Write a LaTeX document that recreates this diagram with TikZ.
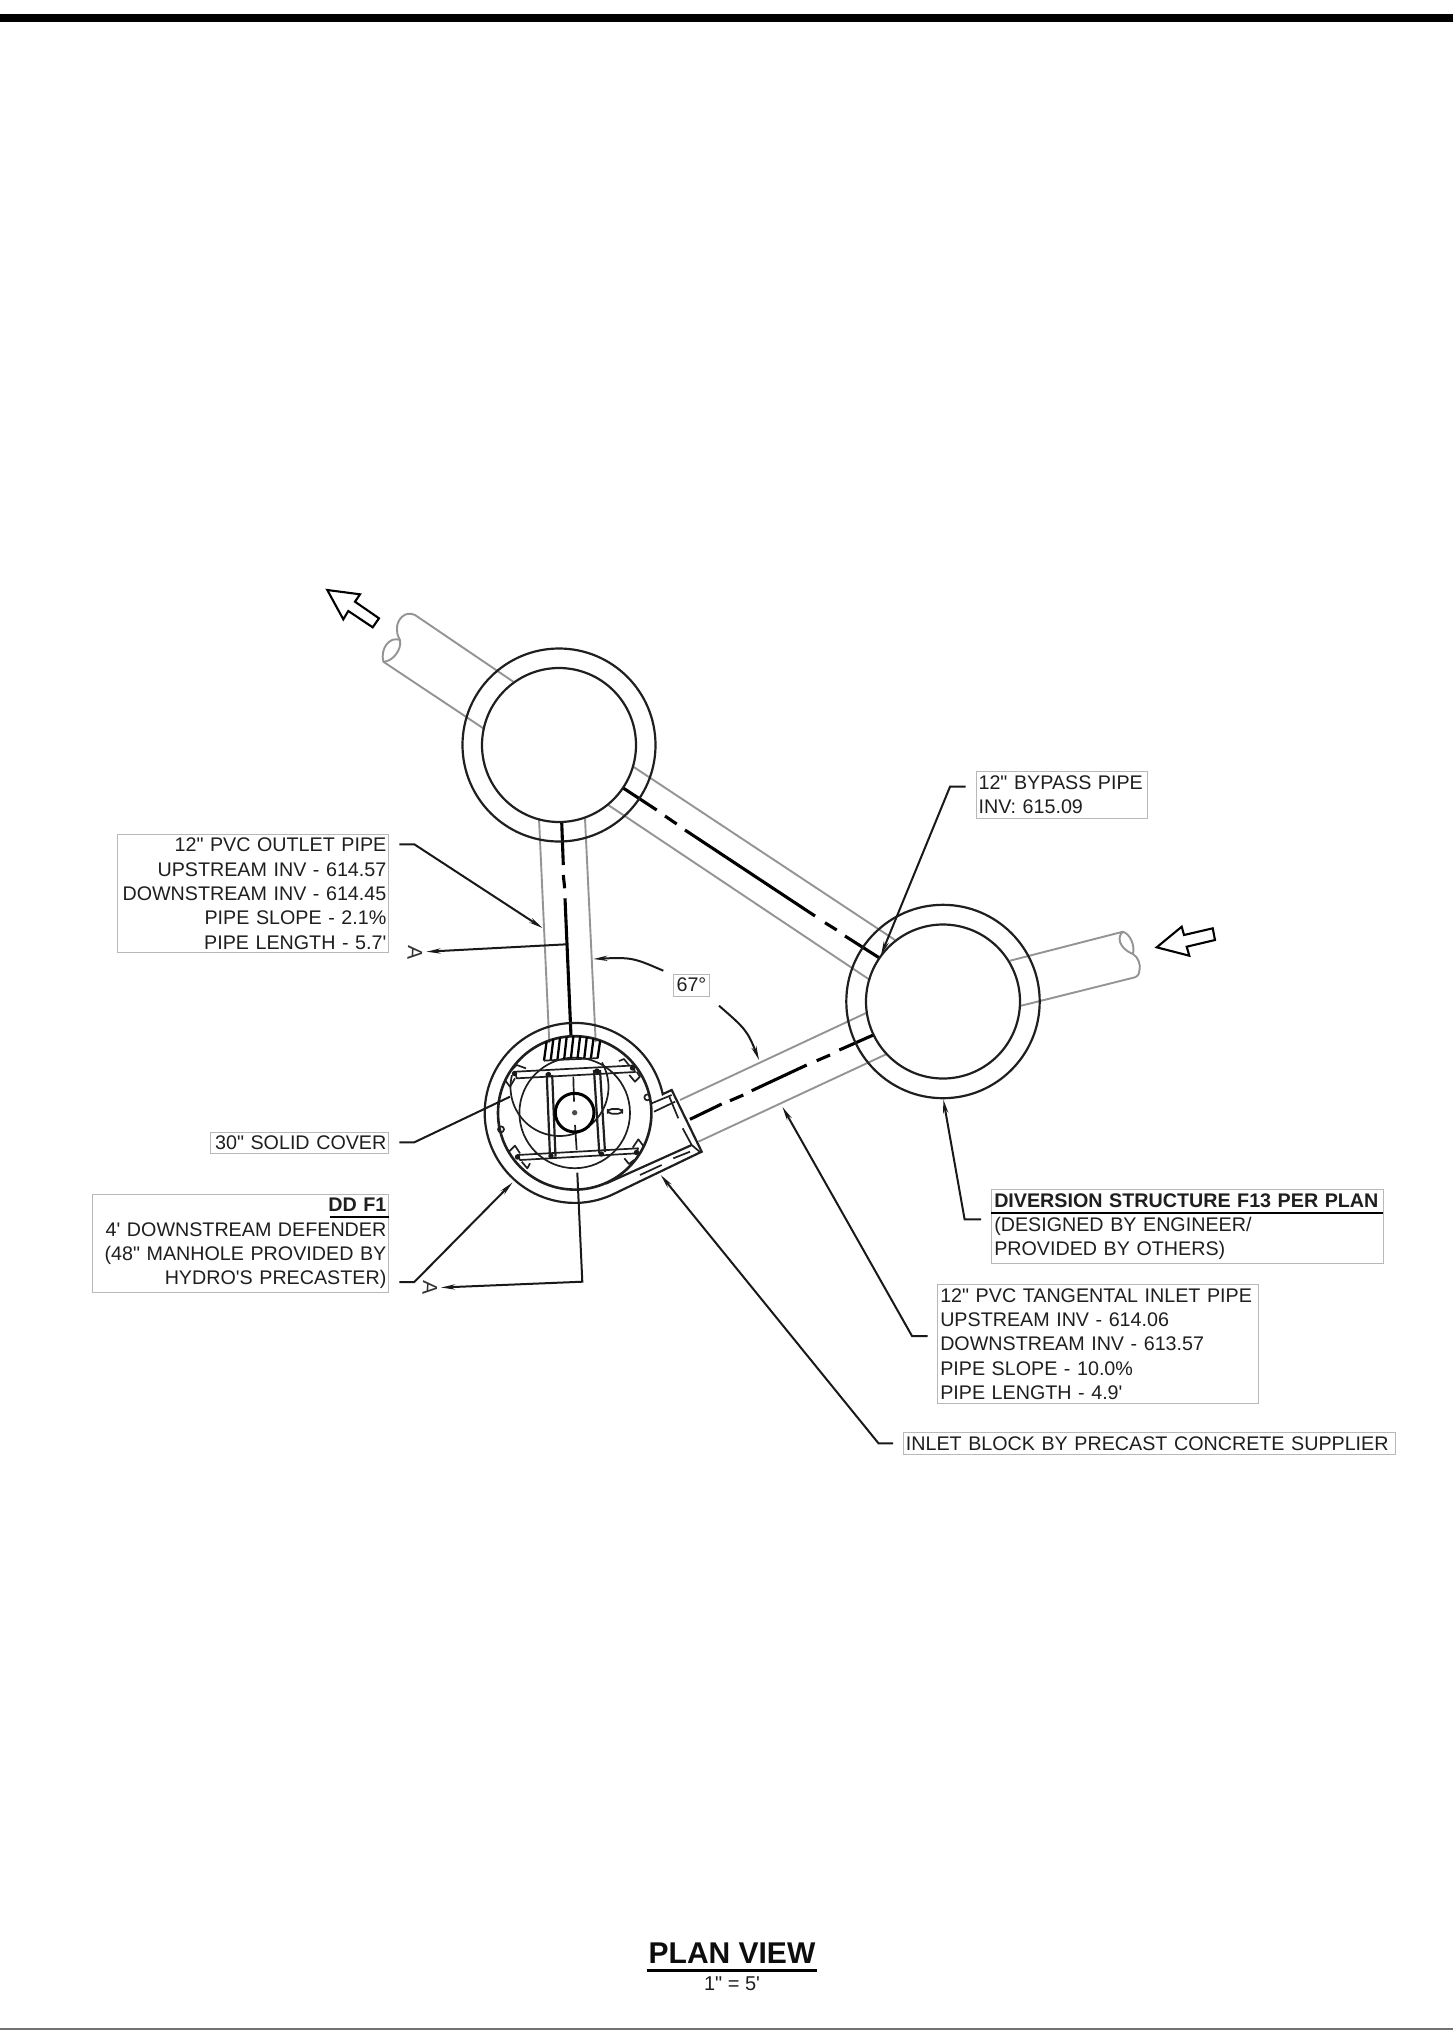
\documentclass[tikz,border=0pt]{standalone}
\usepackage{fontspec}
\usetikzlibrary{arrows.meta,bending}
\newfontfamily\lab{Liberation Sans}
\tikzset{
  x=0.5pt,y=-0.5pt,
  wall/.style={draw=black!88,line width=1.1pt},
  fine/.style={draw=black!88,line width=0.85pt,line join=round},
  pipe/.style={draw=black!42,line width=0.95pt,line join=round},
  cl/.style={draw=black,line width=1.55pt},
  leader/.style={draw=black!90,line width=1pt,line join=miter},
  tipped/.style={leader,-{Stealth[length=7pt,width=2.6pt,flex]}},
  bigarrow/.style={draw=black,line width=1.05pt,line join=miter,fill=white},
  lbl/.style 2 args={draw=black!28,line width=0.45pt,anchor=north west,inner sep=0pt,inner xsep=1.2pt,
    minimum width=0.5pt*#1,minimum height=0.5pt*#2,text width=0.5pt*#1-2.4pt,
    font=\lab\fontsize{9.85}{12.17}\selectfont,text=black!88},
  seca/.style={font=\lab\fontsize{10.5}{11}\selectfont,inner sep=0pt,text=black!80},
}
\begin{document}
\begin{tikzpicture}
\useasboundingbox (0,0) rectangle (1453,2030);
\fill[white] (0,0) rectangle (1453,2030);
% page rules
\fill[black] (0,13.5) rectangle (1453,22);
\fill[black!55] (0,2027.5) rectangle (1453,2030);

% named points
\coordinate (c1) at (559,745);
\coordinate (c2) at (943,1001.5);
\coordinate (hub) at (574.7,1112.9);

% pipes
\draw[pipe] (513.3,681.7) -- (415,615) .. controls (405,610) and (396,620) .. (397,630) .. controls (397,635) and (399,638) .. (400,640);
\draw[pipe] (400,640) .. controls (390,636) and (380,648) .. (383.3,661.7) .. controls (392,662) and (402,650) .. (400,640);
\draw[pipe] (383.3,661.7) -- (483.3,728.3);
\draw[pipe] (633.3,766.7) -- (895,940);
\draw[pipe] (608.3,805) -- (870,980);
\draw[pipe] (539,818.3) -- (549.3,1043);
\draw[pipe] (585,818.3) -- (595.7,1042);
\draw[pipe] (866.7,1012.7) -- (680,1100);
\draw[pipe] (886.7,1054) -- (698.3,1141.7);
\draw[pipe] (1010,960.7) -- (1123,931.7) .. controls (1117,936) and (1118,948) .. (1133,954);
\draw[pipe] (1123,931.7) .. controls (1130,934) and (1135,945) .. (1133,954) .. controls (1138,957) and (1141,965) .. (1139.5,970) .. controls (1139,975) and (1137,977) .. (1135,977.3) -- (1020,1006);

% centre lines
\draw[cl] (622.7,787.7) -- (656.7,810) (665,816) -- (676.7,824) (685,830) -- (815,916) (825,922.7) -- (836.7,930) (845,936) -- (880,958.3);
\draw[cl] (561.7,821.7) -- (563.3,865) (563.3,875) -- (564.7,888.3) (565,898.3) -- (571,1036);
\draw[cl] (873.3,1035) -- (839.3,1050) (830,1055) -- (816.7,1060.7) (806.7,1065) -- (751.7,1090.7) (743.3,1095) -- (730,1100.7) (721.7,1104) -- (690,1119.3);

% structures
\draw[wall] (c1) circle[radius=96.5];
\draw[wall] (c1) circle[radius=77];
\draw[wall] (c2) circle[radius=96.7];
\draw[wall] (c2) circle[radius=77];

% manhole body
\draw[wall] plot[domain=66:348,samples=90] ({574.7+90*cos(\x)},{1112.9+90*sin(\x)}) -- (663,1094) -- (671.7,1090) -- (701.7,1151.7) -- (698.3,1153.3) -- cycle;
\draw[wall,line width=1.3pt] (hub) circle[radius=76.7];
\draw[fine] (hub) circle[radius=55.3];
\draw[fine] plot[domain=-30:194,samples=60] ({559.5+49*cos(\x)},{1087+49*sin(\x)});
% inlet block
\draw[wall] (691.7,1145) -- (606,1183.5);
\draw[fine] (669.3,1096.7) -- (678.3,1118.3) (682.7,1128.3) -- (691.7,1145) -- (700,1152);
\draw[fine] (673.3,1158.3) -- (690,1151.7) (640,1175) -- (661.7,1165);
\draw[fine] (651.7,1103.3) -- (671.7,1095) (654,1111.7) -- (675,1101.7);
% comb
\foreach \i in {0,...,8}{
  \pgfmathsetmacro{\xb}{544+6.7*\i}
  \pgfmathsetmacro{\yb}{1060.7-0.33*\i}
  \pgfmathsetmacro{\xt}{\xb+2.6}
  \pgfmathsetmacro{\yt}{1112.9-sqrt(76.7*76.7-(\xt-574.7)*(\xt-574.7))}
  \draw[draw=black,line width=1.15pt] (\xb,\yb) -- (\xt,\yt);
}
\draw[fine] (544,1060.7) .. controls (560,1059.5) and (585,1059) .. (598.3,1058);
% frame bars
\draw[fine] (515,1071.7) -- (633,1065.5) -- (635,1072) -- (516.7,1078.3) -- cycle;
\draw[fine] (517.3,1155) -- (638,1148.3) -- (637,1153.3) -- (520,1160) -- cycle;
\draw[fine,line width=1.1pt] (546.7,1073.3) -- (550,1156.7) (552.2,1075) -- (555.5,1156.7);
\draw[fine,line width=1.1pt] (594,1070) -- (599.3,1153.3) (600,1070) -- (605,1152);
\foreach \p in {(548.5,1074.5),(597,1071),(551,1156),(601.5,1154),(514.5,1073.5),(517.5,1157),(636.5,1152.5),(632.5,1068)}
  \fill[black!90] \p circle[radius=2.7];
% details at 3x reference scale
\begin{scope}[shift={(440,980)},scale=0.33333]
  \draw[fine] (537,243) -- (552,237) -- (568,257);
  \draw[fine] (568,285) -- (585,305) -- (600,290) -- (590,275);
  \draw[fine] (215,270) -- (230,255) -- (258,265);
  \draw[fine] (195,300) -- (210,320) -- (225,295);
  \draw[fine] (207,515) -- (225,497) -- (240,520);
  \draw[fine] (245,545) -- (262,565) -- (270,550);
  \draw[fine] (553,535) -- (567,552) -- (582,540);
  \draw[fine] (578,503) -- (595,478) -- (612,500);
  \draw[fine] (622,352) circle[radius=9];
  \draw[fine] (183,448) circle[radius=9];
  \draw[fine,rounded corners=2pt] (503,387) rectangle (547,401);
  \draw[fine] (400,290) -- (402,365) (405,435) -- (410,510);
  \draw[draw=black,line width=1.5pt] (404,398) circle[radius=58];
  \fill[black!70] (404,398) circle[radius=8];
\end{scope}

% big flow arrows
\draw[bigarrow] (327.3,590) -- (360,594.3) -- (355,601.7) -- (379,618.3) -- (372.7,627.3) -- (348.3,611) -- (343.3,619.3) -- cycle;
\draw[bigarrow] (1156.7,947.3) -- (1181.7,926.7) -- (1184,935) -- (1212.7,928.3) -- (1215,940) -- (1186.7,946.7) -- (1189.3,955.7) -- cycle;

% labels
\node (outlet) [lbl={271}{118},align=right] at (117.3,834.3) {12" PVC OUTLET PIPE\\UPSTREAM INV - 614.57\\DOWNSTREAM INV - 614.45\\PIPE SLOPE - 2.1\%\\PIPE LENGTH - 5.7'};
\node (cover) [lbl={178}{21.6},align=right] at (210.3,1131.7) {30" SOLID COVER};
\node (ddf) [lbl={296}{98.3},align=right] at (92.3,1194) {\textbf{DD F1}\\4' DOWNSTREAM DEFENDER\\(48" MANHOLE PROVIDED BY\\HYDRO'S PRECASTER)};
\node (bypass) [lbl={171}{46.7},align=left] at (975.7,771) {12" BYPASS PIPE\\INV: 615.09};
\node (divers) [lbl={392}{74.3},align=left] at (991.4,1189) {\textbf{DIVERSION STRUCTURE F13 PER PLAN}\\(DESIGNED BY ENGINEER/\\PROVIDED BY OTHERS)};
\node (inletp) [lbl={320.6}{119.3},align=left] at (937.4,1284) {12" PVC TANGENTAL INLET PIPE\\UPSTREAM INV - 614.06\\DOWNSTREAM INV - 613.57\\PIPE SLOPE - 10.0\%\\PIPE LENGTH - 4.9'};
\node (block) [lbl={492.4}{22},align=left] at (903,1432.3) {INLET BLOCK BY PRECAST CONCRETE SUPPLIER};
\node (angle) [lbl={35.4}{22},align=center] at (673.3,973.7) {67°};
\draw[draw=black,line width=0.9pt] (330,1216.7) -- (389.3,1216.7);
\draw[draw=black,line width=1.1pt] (991.4,1212.7) -- (1383.4,1212.7);

% section markers
\node (secA) [seca,rotate=-93] at (415,952.5) {A};
\node (secB) [seca,rotate=-93] at (430,1288) {A};

% leader points
\coordinate (outS) at (399.3,844.3); \coordinate (outE) at (414.3,844.3); \coordinate (outT) at (542.5,928);
\coordinate (covS) at (399.3,1142.3); \coordinate (covE) at (414.3,1142.3); \coordinate (covT) at (510,1096.7);
\coordinate (ddS) at (399.3,1282); \coordinate (ddE) at (414.3,1282); \coordinate (ddT) at (512.5,1182.5);
\coordinate (bypS) at (965.7,786.7); \coordinate (bypE) at (950,786.7); \coordinate (bypT) at (881,955);
\coordinate (divS) at (981,1219.3); \coordinate (divE) at (964.6,1219.3); \coordinate (divT) at (943.3,1099.3);
\coordinate (inlS) at (927.6,1336); \coordinate (inlE) at (912,1336); \coordinate (inlT) at (782.5,1107);
\coordinate (blkS) at (893.2,1443.3); \coordinate (blkE) at (878.5,1443.3); \coordinate (blkT) at (660.7,1175);
\coordinate (a1T) at (566.7,944.3); \coordinate (a1A) at (426.5,951.7);
\coordinate (a2S) at (577.3,1172.7); \coordinate (a2E) at (582.3,1281.7); \coordinate (a2A) at (441,1287.5);
\coordinate (angA) at (663.3,970.7); \coordinate (angB) at (593.3,959);
\coordinate (angC) at (719,1005.7); \coordinate (angD) at (759,1060);

\draw[tipped] (outS) -- (outE) -- (outT);
\draw[leader] (covS) -- (covE) -- (covT);
\draw[tipped] (ddS) -- (ddE) -- (ddT);
\draw[tipped] (bypS) -- (bypE) -- (bypT);
\draw[tipped] (divS) -- (divE) -- (divT);
\draw[tipped] (inlS) -- (inlE) -- (inlT);
\draw[tipped] (blkS) -- (blkE) -- (blkT);
\draw[tipped] (a1T) -- (a1A);
\draw[tipped] (a2S) -- (a2E) -- (a2A);
\draw[tipped] (angA) .. controls (631.7,957) .. (angB);
\draw[tipped] (angC) .. controls (747.6,1030.6) .. (angD);

% title
\node (title) [font=\lab\fontsize{15}{15}\selectfont\bfseries,inner sep=0pt,text=black!95] at (732,1953.3) {PLAN VIEW};
\draw[draw=black,line width=1.5pt] (646.7,1970.7) -- (816.7,1970.7);
\node (scale) [font=\lab\fontsize{10}{10}\selectfont,inner sep=0pt,text=black!88] at (732,1983.5) {1" = 5'};
\end{tikzpicture}
\end{document}
